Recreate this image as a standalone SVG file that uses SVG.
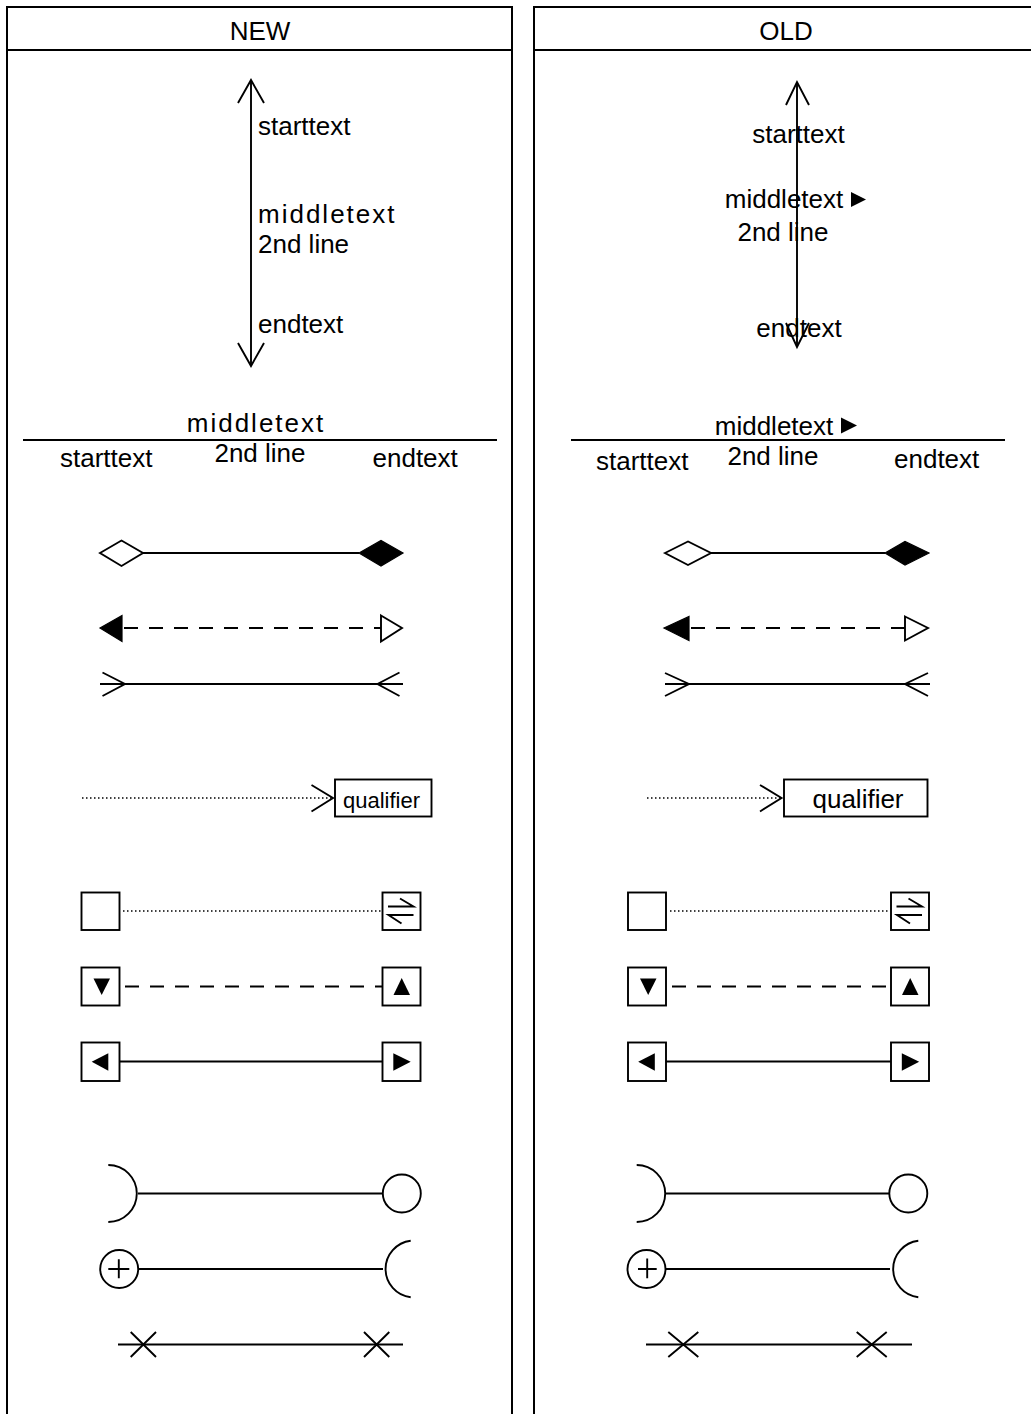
<svg xmlns="http://www.w3.org/2000/svg" width="1031" height="1414" viewBox="0 0 1031 1414">
<style>
.panel{fill:#fff;stroke:#000;stroke-width:2}
.ln{fill:none;stroke:#000;stroke-width:1.9}
.dash{fill:none;stroke:#000;stroke-width:1.9;stroke-dasharray:14 11}
.dot{fill:none;stroke:#000;stroke-width:1.5;stroke-dasharray:1.5 2.5}
.open{fill:#fff;stroke:#000;stroke-width:1.9}
.solid{fill:#000;stroke:#000;stroke-width:1.2}
.t{font-family:"Liberation Sans",Arial,sans-serif;font-size:26px;fill:#000}
.ls{letter-spacing:2px}
.m{text-anchor:middle}
</style>
<rect width="1031" height="1414" fill="#fff"/>
<g id="panel-new">
<rect class="panel" x="7" y="7" width="505" height="1420"/>
<line class="ln" x1="7" y1="50" x2="512" y2="50" style="stroke-width:2"/>
<text class="t m" x="260" y="40">NEW</text>
</g>
<g id="panel-old">
<rect class="panel" x="534" y="7" width="505" height="1420"/>
<line class="ln" x1="534" y1="50" x2="1039" y2="50" style="stroke-width:2"/>
<text class="t m" x="786" y="40">OLD</text>
</g>
<g id="connectors">
<line class="ln" x1="251" y1="80" x2="251" y2="366"/>
<polyline class="ln" points="238,103 251,80 264,103"/>
<polyline class="ln" points="238,343 251,366 264,343"/>
<line class="ln" x1="797" y1="82" x2="797" y2="347"/>
<polyline class="ln" points="786,105 797,82 809,105"/>
<polyline class="ln" points="786,323 797,347 809,323"/>
<line class="ln" x1="23" y1="440" x2="497" y2="440"/>
<line class="ln" x1="571" y1="440" x2="1005" y2="440"/>
<line class="ln" x1="143" y1="553" x2="359" y2="553"/>
<polygon class="open" points="100,553 121.5,540.5 143,553 121.5,566"/>
<polygon class="solid" points="359,553 381,540.5 403,553 381,566"/>
<line class="ln" x1="711" y1="553" x2="885" y2="553"/>
<polygon class="open" points="665,553 688,541.5 711,553 688,565"/>
<polygon class="solid" points="885,553 905,541.5 929,553 905,565"/>
<line class="dash" x1="124" y1="628" x2="381" y2="628"/>
<polygon class="solid" points="100,628 122,615.5 122,641.5"/>
<polygon class="open" points="381,615.5 402,628 381,641.5"/>
<line class="dash" x1="691" y1="628" x2="905" y2="628"/>
<polygon class="solid" points="664,628 689,616.5 689,640.5"/>
<polygon class="open" points="905,616.5 928,628 905,640.5"/>
<line class="ln" x1="100" y1="684" x2="403" y2="684"/>
<polyline class="ln" points="102.5,672.5 125,684 102.5,696"/>
<polyline class="ln" points="399.5,672.5 377.5,684 399.5,696"/>
<line class="ln" x1="665" y1="684" x2="930" y2="684"/>
<polyline class="ln" points="665,673 689,684 665,696"/>
<polyline class="ln" points="928,673 905,684 928,696"/>
<line class="dot" x1="82" y1="798" x2="333" y2="798"/>
<polyline class="ln" points="311.5,785 333,798 311.5,811.5"/>
<line class="dot" x1="647" y1="798" x2="781" y2="798"/>
<polyline class="ln" points="760,785 781.5,798 760,811.5"/>
<line class="dot" x1="123" y1="911" x2="381" y2="911"/>
<line class="dash" x1="125" y1="986.5" x2="382" y2="986.5"/>
<line class="ln" x1="119" y1="1061.5" x2="383" y2="1061.5"/>
<line class="dot" x1="670" y1="911" x2="890" y2="911"/>
<line class="dash" x1="672" y1="986.5" x2="890" y2="986.5"/>
<line class="ln" x1="666" y1="1061.5" x2="891" y2="1061.5"/>
<line class="ln" x1="138" y1="1193.5" x2="383" y2="1193.5"/>
<line class="ln" x1="138" y1="1269" x2="383" y2="1269"/>
<line class="ln" x1="118" y1="1344.5" x2="403" y2="1344.5"/>
<line class="ln" x1="666" y1="1193.5" x2="890" y2="1193.5"/>
<line class="ln" x1="666" y1="1269" x2="890" y2="1269"/>
<line class="ln" x1="646" y1="1344.5" x2="912" y2="1344.5"/>
</g>
<g id="labels-new">
<text class="t" x="258" y="135">starttext</text>
<text class="t ls" x="258" y="222.5">middletext</text>
<text class="t" x="258" y="252.5">2nd line</text>
<text class="t" x="258" y="333">endtext</text>
<text class="t ls m" x="256" y="432">middletext</text>
<text class="t" x="60" y="466.5">starttext</text>
<text class="t m" x="260" y="462">2nd line</text>
<text class="t" x="372.5" y="466.5">endtext</text>
</g>
<g id="labels-old">
<text class="t m" x="798.5" y="143">starttext</text>
<text class="t m" x="784" y="207.5">middletext</text>
<polygon points="851,192 866,199.5 851,207" fill="#000"/>
<text class="t m" x="783" y="241">2nd line</text>
<text class="t m" x="799" y="336.5">endtext</text>
<text class="t m" x="774" y="435">middletext</text>
<polygon points="841,417.5 857,425.5 841,433.5" fill="#000"/>
<text class="t" x="596" y="470">starttext</text>
<text class="t m" x="773" y="465">2nd line</text>
<text class="t" x="894" y="468">endtext</text>
</g>
<g id="qualifier-new">
<rect class="open" x="335" y="779.5" width="96.5" height="37"/>
<text class="t" x="343" y="808" style="font-size:22px">qualifier</text>
</g>
<g id="qualifier-old">
<rect class="open" x="784" y="779.5" width="143.5" height="37"/>
<text class="t m" x="858" y="808">qualifier</text>
</g>
<g id="boxes-new">
<rect class="open" x="81.5" y="892.5" width="38" height="37.5"/>
<rect class="open" x="382.5" y="892.5" width="38" height="37.5"/>
<path class="ln" d="M388,906.5 H413.5 L400,898.5 M413.5,915 H388.5 L401.5,923.5"/>
<rect class="open" x="81.5" y="967.5" width="38" height="38"/>
<polygon points="93.5,978.5 110,978.5 101.7,995" fill="#000"/>
<rect class="open" x="382.5" y="967.5" width="38" height="38"/>
<polygon points="393.5,995 410,995 401.7,978" fill="#000"/>
<rect class="open" x="81.5" y="1042.5" width="38" height="38.5"/>
<polygon points="91.7,1061.7 108.3,1053.3 108.3,1070.7" fill="#000"/>
<rect class="open" x="382.5" y="1042.5" width="38" height="38.5"/>
<polygon points="410.7,1061.7 393.3,1053.3 393.3,1070.7" fill="#000"/>
</g>
<g id="boxes-old">
<rect class="open" x="628" y="892.5" width="38" height="37.5"/>
<rect class="open" x="891" y="892.5" width="38" height="37.5"/>
<path class="ln" d="M896.5,906.5 H922 L908.5,898.5 M922,915 H897 L910,923.5"/>
<rect class="open" x="628" y="967.5" width="38" height="38"/>
<polygon points="640,978.5 656.5,978.5 648.2,995" fill="#000"/>
<rect class="open" x="891" y="967.5" width="38" height="38"/>
<polygon points="902,995 918.5,995 910.2,978" fill="#000"/>
<rect class="open" x="628" y="1042.5" width="38" height="38.5"/>
<polygon points="638.2,1061.7 654.8,1053.3 654.8,1070.7" fill="#000"/>
<rect class="open" x="891" y="1042.5" width="38" height="38.5"/>
<polygon points="919.2,1061.7 901.8,1053.3 901.8,1070.7" fill="#000"/>
</g>
<g id="ends-new">
<path class="ln" d="M108.3,1165 A28.5,28.5 0 0 1 108.3,1222"/>
<circle class="open" cx="401.8" cy="1193.5" r="19"/>
<circle class="open" cx="119.2" cy="1269" r="19"/>
<path class="ln" d="M108.3,1269 H129.3 M118.8,1259.3 V1278.3"/>
<path class="ln" d="M410.7,1240.7 A28.5,28.5 0 0 0 410.7,1297.3"/>
<path class="ln" d="M130.7,1332 L156,1357 M130.7,1357 L156,1332"/>
<path class="ln" d="M364,1332 L389.3,1357 M364,1357 L389.3,1332"/>
</g>
<g id="ends-old">
<path class="ln" d="M636.7,1165 A28.5,28.5 0 0 1 636.7,1222"/>
<circle class="open" cx="908.3" cy="1193.5" r="19"/>
<circle class="open" cx="646.5" cy="1269" r="19"/>
<path class="ln" d="M638,1269 H656.7 M647.2,1258.5 V1278.3"/>
<path class="ln" d="M918.3,1240.7 A28.5,28.5 0 0 0 918.3,1297.3"/>
<path class="ln" d="M668.3,1332 L698.3,1357 M668.3,1357 L698.3,1332"/>
<path class="ln" d="M856.7,1332 L886.7,1357 M856.7,1357 L886.7,1332"/>
</g>
</svg>
